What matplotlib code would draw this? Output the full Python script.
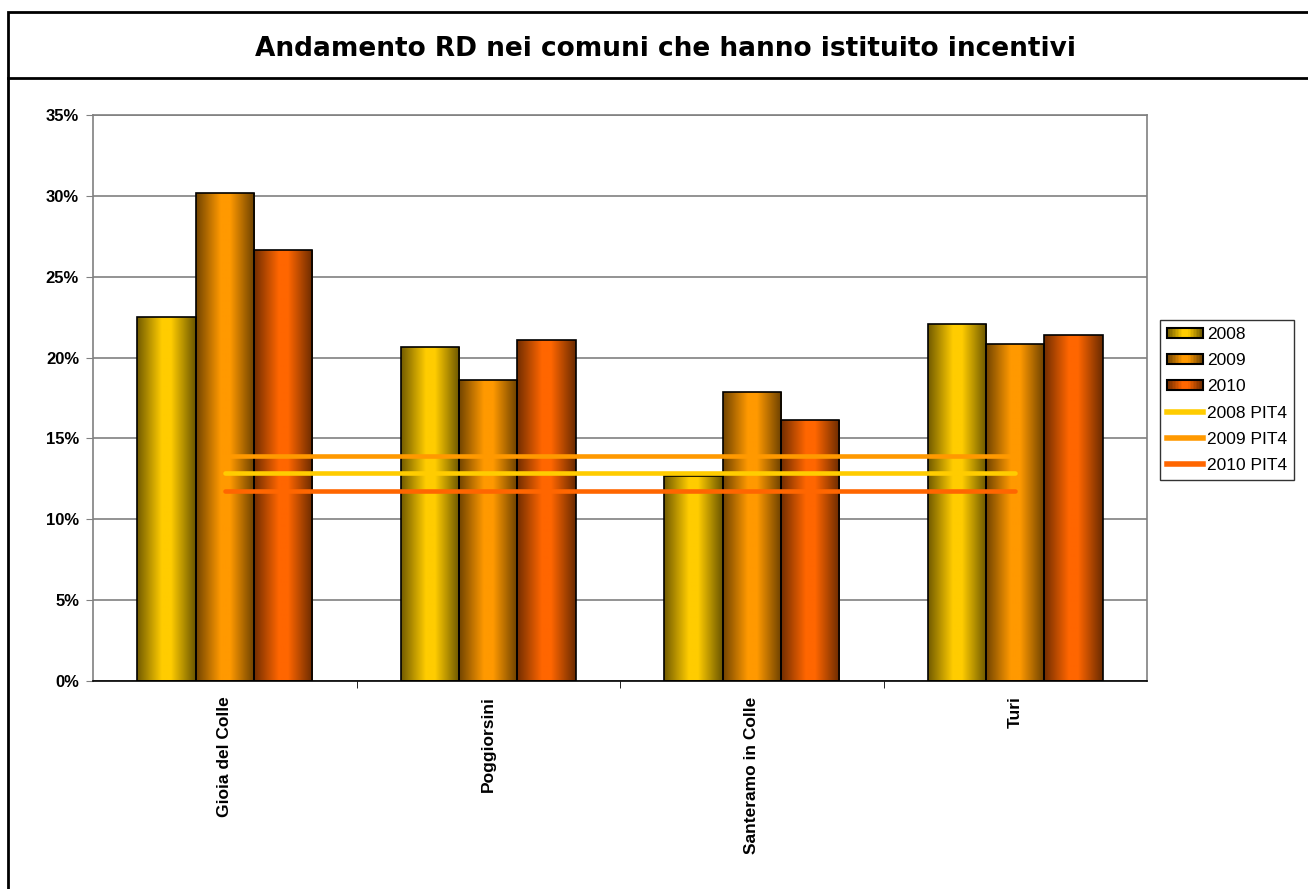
import numpy as np
import matplotlib
matplotlib.use("Agg")
import matplotlib.pyplot as plt
from matplotlib.patches import Rectangle
from matplotlib.lines import Line2D
from matplotlib.legend_handler import HandlerBase
from matplotlib.colors import to_rgb
from matplotlib.ticker import PercentFormatter

# data
comuni = ["Gioia del Colle", "Poggiorsini", "Santeramo in Colle", "Turi"]
anni = ["2008", "2009", "2010"]
rd_2008 = [22.5, 20.65, 12.7, 22.1]
rd_2009 = [30.2, 18.6, 17.9, 20.85]
rd_2010 = [26.65, 21.1, 16.15, 21.4]
pit4_2008 = 12.85
pit4_2009 = 13.9
pit4_2010 = 11.75

colori = ["#FFCC00", "#FF9900", "#FF6600"]


def shade(col, n=64):
    # cylinder-like horizontal shading: dark edges, bright middle
    t = np.linspace(0, 1, n)
    f = np.interp(t, [0, 0.42, 0.58, 1], [0.45, 1.0, 1.0, 0.42])
    rgb = np.array(to_rgb(col))
    return f[:, None] * rgb[None, :]


class GradientHandler(HandlerBase):
    def __init__(self, col):
        super().__init__()
        self.col = col

    def create_artists(self, legend, orig_handle, xdescent, ydescent,
                       width, height, fontsize, trans):
        n = 24
        cols = shade(self.col, n)
        arts = []
        w = width / n
        for i in range(n):
            r = Rectangle((-xdescent + i * w, -ydescent), w * 1.05, height,
                          facecolor=cols[i], edgecolor="none", transform=trans)
            arts.append(r)
        arts.append(Rectangle((-xdescent, -ydescent), width, height,
                              facecolor="none", edgecolor="black", lw=1.5,
                              transform=trans))
        return arts


fig = plt.figure(figsize=(13.08, 8.89), dpi=100)

# frame around title and chart
fig.add_artist(Rectangle((8 / 1308, -0.01), 1.1, 1 - 12 / 889 + 0.01,
                         transform=fig.transFigure, fill=False,
                         edgecolor="black", lw=2))
fig.add_artist(Line2D([8 / 1308, 1], [1 - 78 / 889] * 2,
                      transform=fig.transFigure, color="black", lw=2))
fig.text(666 / 1308, 1 - 56 / 889, "Andamento RD nei comuni che hanno istituito incentivi",
         ha="center", va="baseline", fontsize=19, fontweight="bold",
         family="DejaVu Sans")

ax = fig.add_axes([93 / 1308, 1 - 681 / 889, (1147 - 93) / 1308, (681 - 115) / 889])

x = np.arange(len(comuni))
bw = 0.222
serie = [rd_2008, rd_2009, rd_2010]
for k, (vals, col) in enumerate(zip(serie, colori)):
    pos = x + (k - 1) * bw
    bars = ax.bar(pos, vals, width=bw, facecolor="none", edgecolor="black",
                  lw=1.2, zorder=3)
    grad = shade(col)[None, :, :]
    for b in bars:
        im = ax.imshow(grad, extent=(b.get_x(), b.get_x() + b.get_width(),
                                     0, b.get_height()),
                       aspect="auto", zorder=2, interpolation="bilinear")
        im.set_clip_path(b)

lw_pit = 3.3
ax.plot(x, [pit4_2008] * len(x), color=colori[0], lw=lw_pit, zorder=4,
        solid_capstyle="round")
ax.plot(x, [pit4_2009] * len(x), color=colori[1], lw=lw_pit, zorder=4,
        solid_capstyle="round")
ax.plot(x, [pit4_2010] * len(x), color=colori[2], lw=lw_pit, zorder=4,
        solid_capstyle="round")

ax.set_xlim(-0.5, 3.5)
ax.set_ylim(0, 35)
ax.set_yticks(np.arange(0, 36, 5))
ax.yaxis.set_major_formatter(PercentFormatter(decimals=0))
ax.grid(axis="y", color="#808080", lw=1.2, zorder=1)
ax.set_axisbelow(True)

ax.set_xticks(x)
ax.set_xticklabels(comuni, rotation=90, va="top", ha="center",
                   family="Liberation Sans", fontweight="bold", fontsize=12.5)
ax.tick_params(axis="x", length=0, pad=11)
ax.set_xticks(np.arange(0.5, 3.5, 1), minor=True)
ax.tick_params(axis="x", which="minor", length=5, direction="out", color="black")
ax.tick_params(axis="y", length=5, direction="out", pad=5, color="#808080")
for lab in ax.get_yticklabels():
    lab.set_family("Liberation Sans")
    lab.set_fontweight("bold")
    lab.set_fontsize(12)

for s in ["top", "right"]:
    ax.spines[s].set_color("#808080")
    ax.spines[s].set_linewidth(1.2)
ax.spines["left"].set_color("#808080")
ax.spines["left"].set_linewidth(1.2)
ax.spines["bottom"].set_color("black")
ax.spines["bottom"].set_linewidth(1.2)

# legend
handles = [Rectangle((0, 0), 1, 1) for _ in anni]
handles += [Line2D([], [], color=c, lw=4) for c in colori]
labels = anni + [a + " PIT4" for a in anni]
hmap = {handles[i]: GradientHandler(colori[i]) for i in range(3)}
leg = fig.legend(handles, labels, handler_map=hmap,
                 loc="center left", bbox_to_anchor=(1160 / 1308, 1 - 400 / 889),
                 frameon=True, fancybox=False, edgecolor="black",
                 prop={"family": "Liberation Sans", "size": 12.5},
                 handlelength=2.1, handleheight=0.5, handletextpad=0.2,
                 labelspacing=0.64, borderpad=0.4, borderaxespad=0)
leg.get_frame().set_linewidth(1.0)

fig.savefig("out.png", dpi=100)
